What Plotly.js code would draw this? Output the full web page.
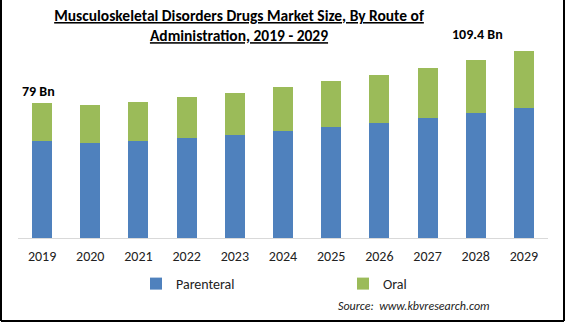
<!DOCTYPE html>
<html>
<head>
<meta charset="utf-8">
<script src="https://cdn.plot.ly/plotly-3.0.1.min.js"></script>
<style>html,body{margin:0;padding:0;background:#fff;}#chart{width:565px;height:322px;}</style>
</head>
<body>
<div id="chart"></div>
<script>
const years = ['2019','2020','2021','2022','2023','2024','2025','2026','2027','2028','2029'];
const parenteral = [56.8, 55.6, 56.8, 58.6, 60.3, 62.8, 65.2, 67.5, 70.2, 73.2, 76.1];
const oral = [22.2, 22.2, 22.8, 24.1, 24.5, 25.5, 26.6, 27.8, 29.2, 30.9, 33.3];
const firstLabel = '79 Bn';
const lastLabel = '109.4 Bn';
const firstTotal = 79;
const lastTotal = 109.4;

const W = 565, H = 322;
const M = {l: 18, r: 17, t: 33, b: 84, autoexpand: false};
const pw = W - M.l - M.r, ph = H - M.t - M.b;
const px = v => (v - M.l) / pw;
const py = v => (H - M.b - v) / ph;

const font = "Calibri, Carlito, 'Liberation Sans Narrow', 'DejaVu Sans Condensed', sans-serif";

const data = [
  {type: 'bar', name: 'Parenteral', x: years, y: parenteral, marker: {color: '#4f81bd'}, hoverinfo: 'none'},
  {type: 'bar', name: 'Oral', x: years, y: oral, marker: {color: '#9bbb59'}, hoverinfo: 'none'}
];

const layout = {
  width: W, height: H,
  margin: M,
  paper_bgcolor: '#fff', plot_bgcolor: '#fff',
  barmode: 'stack',
  bargap: 0.585,
  showlegend: true,
  font: {family: font, color: '#000'},
  title: {
    text: 'Musculoskeletal Disorders Drugs Market Size, By Route of<br>Administration, 2019 - 2029',
    font: {family: font, size: 15.5, color: '#000', weight: 'bold', lineposition: 'under'},
    x: 239 / W, xanchor: 'center', xref: 'container',
    y: 1 - 21 / H, yanchor: 'top', yref: 'container'
  },
  xaxis: {
    type: 'category',
    range: [-0.5, years.length - 0.5], autorange: false,
    showline: true, linecolor: '#d9d9d9', linewidth: 1,
    ticks: '', showgrid: false, zeroline: false,
    tickfont: {family: font, size: 14, color: '#222'},
    ticklabelstandoff: 5,
    fixedrange: true
  },
  yaxis: {
    range: [0, 120], autorange: false, visible: false, showgrid: false, zeroline: false, fixedrange: true
  },
  legend: {
    orientation: 'h', x: 136 / W, xref: 'container', xanchor: 'left',
    y: 1 - 268 / H, yref: 'container', yanchor: 'top',
    entrywidth: 162, entrywidthmode: 'pixels',
    font: {family: font, size: 14, color: '#222'},
    traceorder: 'normal'
  },
  annotations: [
    {xref: 'x', yref: 'y', x: 0, y: firstTotal, text: '<b>' + firstLabel + '</b>', showarrow: false,
     yanchor: 'bottom', xanchor: 'center', xshift: -4, yshift: 1,
     font: {family: font, size: 14, color: '#000'}},
    {xref: 'x', yref: 'y', x: years.length - 1, y: lastTotal, text: '<b>' + lastLabel + '</b>', showarrow: false,
     yanchor: 'bottom', xanchor: 'center', xshift: -46, yshift: 6,
     font: {family: font, size: 14, color: '#000'}},
    {xref: 'paper', yref: 'paper', x: px(492), y: py(306), xanchor: 'right', yanchor: 'middle',
     text: '<i>Source:  www.kbvresearch.com</i>', showarrow: false,
     font: {family: font, size: 12, color: '#222'}}
  ],
  shapes: [
    {type: 'line', xref: 'paper', yref: 'paper', x0: px(1), x1: px(1), y0: py(0), y1: py(H - 1), line: {color: '#000', width: 2}},
    {type: 'line', xref: 'paper', yref: 'paper', x0: px(W - 1), x1: px(W - 1), y0: py(0), y1: py(H - 1), line: {color: '#000', width: 2}},
    {type: 'line', xref: 'paper', yref: 'paper', x0: px(1), x1: px(W - 1), y0: py(H - 1), y1: py(H - 1), line: {color: '#000', width: 2}}
  ]
};

Plotly.newPlot('chart', data, layout, {displayModeBar: false, staticPlot: true});
</script>
</body>
</html>
